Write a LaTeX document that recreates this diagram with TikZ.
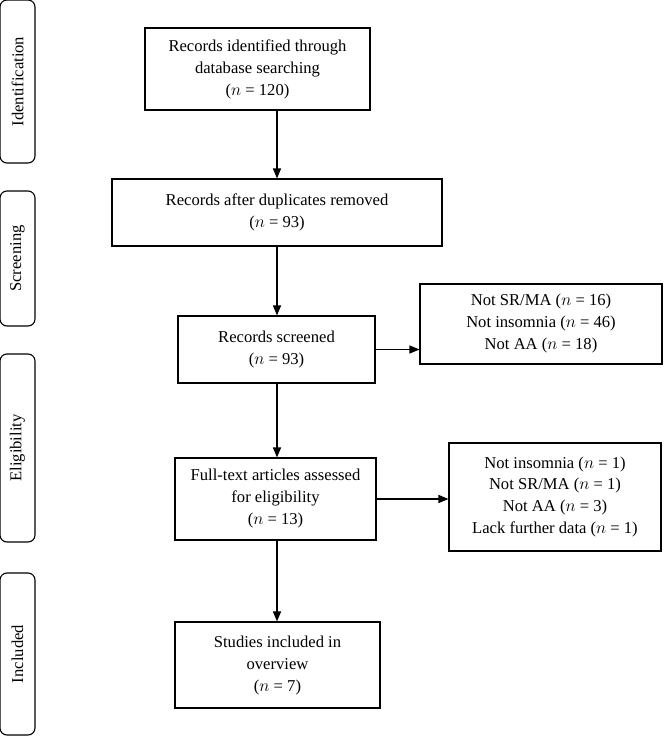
\documentclass[tikz,border=0pt]{standalone}
\usepackage{fontspec}
\setmainfont{Liberation Serif}
\usetikzlibrary{arrows.meta}
\begin{document}
\begin{tikzpicture}[x=1pt,y=-1pt,
  box/.style={draw, line width=1.1pt, align=center, inner sep=0pt,
    font=\fontsize{16.6}{22}\selectfont},
  stage/.style={draw, line width=1.1pt, rounded corners=7pt, inner sep=0pt,
    minimum width=35pt, font=\fontsize{16.6}{18}\selectfont},
  flow/.style={line width=1.4pt, -{Triangle[length=10pt,width=8pt]}}]
\useasboundingbox (0,0) rectangle (671,737);
% stage labels
\node[stage, minimum height=163pt] (s1) at (17.5,81.5) {\rotatebox{90}{Identification}};
\node[stage, minimum height=135pt] (s2) at (17.5,258.5) {\rotatebox{90}{Screening}};
\node[stage, minimum height=188pt] (s3) at (17.5,448) {\rotatebox{90}{Eligibility}};
\node[stage, minimum height=162pt] (s4) at (17.5,654) {\rotatebox{90}{Included}};
% boxes
\node[box, minimum width=225pt, minimum height=82pt] (b1) at (257.5,69)
  {Records identified through\\database searching\\($n$ = 120)};
\node[box, minimum width=330pt, minimum height=67pt] (b2) at (277,212.5)
  {Records after duplicates removed\\($n$ = 93)};
\node[box, minimum width=197pt, minimum height=67pt] (b3) at (276.5,349.5)
  {Records screened\\($n$ = 93)};
\node[box, minimum width=242pt, minimum height=80pt] (b4) at (541,324)
  {Not SR/MA ($n$ = 16)\\Not insomnia ($n$ = 46)\\Not AA ($n$ = 18)};
\node[box, minimum width=201pt, minimum height=82pt] (b5) at (275.5,499)
  {Full-text articles assessed\\for eligibility\\($n$ = 13)};
\node[box, minimum width=212pt, minimum height=108pt] (b6) at (555,497)
  {Not insomnia ($n$ = 1)\\Not SR/MA ($n$ = 1)\\Not AA ($n$ = 3)\\Lack further data ($n$ = 1)};
\node[box, minimum width=205pt, minimum height=86pt] (b7) at (277.5,665)
  {Studies included in\\overview\\($n$ = 7)};
\coordinate (axis) at (277,0);
% connectors
\draw[flow] (b1.south -| axis) -- (b2.north -| axis);
\draw[flow] (b2.south -| axis) -- (b3.north -| axis);
\draw[flow] (b3.south -| axis) -- (b5.north -| axis);
\draw[flow] (b5.south -| axis) -- (b7.north -| axis);
\draw[flow] (b3.east) -- (b3.east -| b4.west);
\draw[flow] (b5.east) -- (b5.east -| b6.west);
\end{tikzpicture}
\end{document}
